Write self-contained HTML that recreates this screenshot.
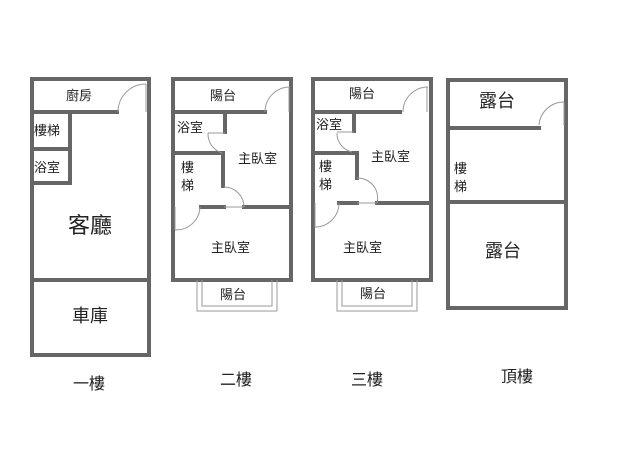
<!DOCTYPE html>
<html><head><meta charset="utf-8"><style>
html,body{margin:0;padding:0;background:#fff;width:638px;height:460px;overflow:hidden}
svg{display:block}
text{font-family:"Liberation Sans","Noto Sans CJK TC",sans-serif;fill:#222}
</style></head><body>
<svg width="638" height="460" viewBox="0 0 638 460">
<g fill="none" stroke="#666" stroke-width="4" stroke-linecap="square">
<!-- floor 1 -->
<rect x="32" y="79" width="117" height="276"/>
<line x1="32" y1="112" x2="117" y2="112"/>
<line x1="70" y1="112" x2="70" y2="183"/>
<line x1="32" y1="149" x2="70" y2="149"/>
<line x1="32" y1="183" x2="70" y2="183"/>
<line x1="32" y1="280" x2="149" y2="280"/>
<!-- floor 2 -->
<rect x="173" y="79" width="118" height="201"/>
<line x1="173" y1="112" x2="265" y2="112"/>
<line x1="225" y1="112" x2="225" y2="132"/>
<line x1="173" y1="153" x2="223" y2="153"/>
<line x1="223" y1="153" x2="223" y2="186"/>
<line x1="201" y1="207" x2="224" y2="207"/>
<line x1="244" y1="207" x2="291" y2="207"/>
<!-- floor 3 -->
<rect x="313" y="79" width="118" height="201"/>
<line x1="313" y1="112" x2="400" y2="112"/>
<line x1="354" y1="112" x2="354" y2="131"/>
<line x1="313" y1="153" x2="357" y2="153"/>
<line x1="357" y1="153" x2="357" y2="178"/>
<line x1="339" y1="203" x2="357" y2="203"/>
<line x1="377" y1="203" x2="431" y2="203"/>
<!-- floor 4 -->
<rect x="448" y="80" width="118" height="228"/>
<line x1="448" y1="128" x2="539" y2="128"/>
<line x1="448" y1="202" x2="566" y2="202"/>
</g>
<g fill="none" stroke="#999" stroke-width="1">
<!-- doors -->
<path d="M118 112 A28 28 0 0 1 146 84"/><line x1="146" y1="84" x2="146" y2="112"/>
<path d="M265 112 A25 25 0 0 1 290 87"/><line x1="289" y1="87" x2="289" y2="112"/>
<path d="M208 133 A20 20 0 0 0 222 153"/><line x1="208" y1="133" x2="225" y2="133"/>
<path d="M224 187 A20 20 0 0 1 244 207"/><line x1="224" y1="207" x2="244" y2="207"/>
<path d="M175 230 A24 24 0 0 0 200 207"/><line x1="175" y1="207" x2="175" y2="230"/>
<path d="M403 112 A25 25 0 0 1 428 87"/><line x1="427" y1="87" x2="427" y2="112"/>
<path d="M337 133 A19 19 0 0 0 352 152"/><line x1="337" y1="132" x2="354" y2="132"/>
<path d="M357 178 A20 20 0 0 1 377 203"/><line x1="357" y1="203" x2="377" y2="203"/>
<path d="M315 227 A24 24 0 0 0 339 203"/><line x1="315" y1="203" x2="315" y2="227"/>
<path d="M539 125 A25 25 0 0 1 564 102"/><line x1="564" y1="102" x2="564" y2="125"/>
<!-- balconies -->
<path d="M197 280 V311 H277 V280"/><path d="M202 280 V306 H272 V280"/>
<path d="M337 280 V311 H417 V280"/><path d="M342 280 V306 H412 V280"/>
</g>
<g font-size="13">
<text x="66" y="100">廚房</text>
<text x="34" y="135">樓梯</text>
<text x="34" y="172">浴室</text>
<text x="210" y="100">陽台</text>
<text x="177" y="132">浴室</text>
<text x="238" y="163">主臥室</text>
<text x="181" y="172">樓</text>
<text x="181" y="190">梯</text>
<text x="211" y="252">主臥室</text>
<text x="220" y="299">陽台</text>
<text x="349" y="98">陽台</text>
<text x="316" y="129">浴室</text>
<text x="371" y="161">主臥室</text>
<text x="319" y="171">樓</text>
<text x="319" y="189">梯</text>
<text x="343" y="252">主臥室</text>
<text x="360" y="298">陽台</text>
<text x="454" y="173">樓</text>
<text x="454" y="191">梯</text>
</g>
<g font-size="18">
<text x="479" y="107">露台</text>
<text x="485" y="257">露台</text>
<text x="72" y="322">車庫</text>
</g>
<text x="68" y="233" font-size="22">客廳</text>
<g font-size="16">
<text x="73" y="389">一樓</text>
<text x="220" y="385">二樓</text>
<text x="351" y="385">三樓</text>
<text x="501" y="382">頂樓</text>
</g>
</svg>
</body></html>
